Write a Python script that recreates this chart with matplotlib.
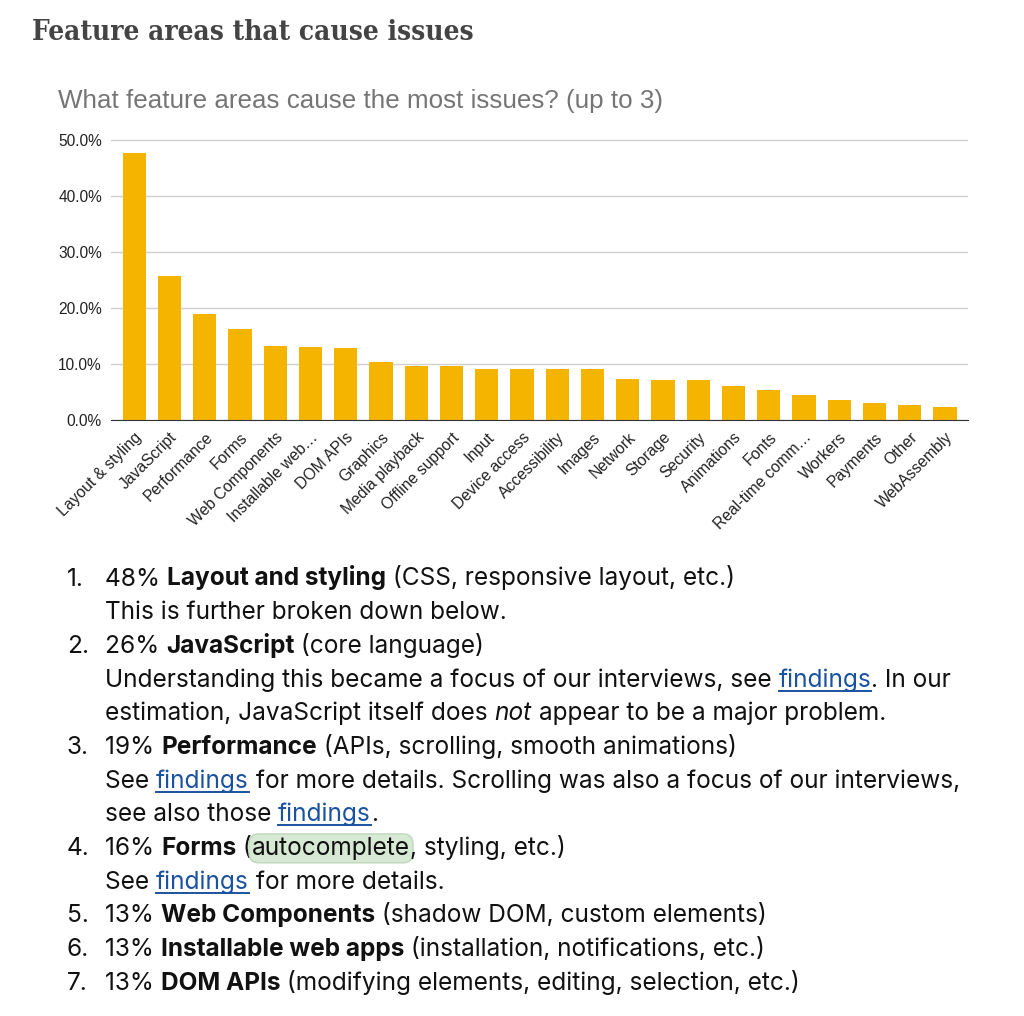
import matplotlib
matplotlib.use("Agg")
import matplotlib.pyplot as plt
import numpy as np
from matplotlib.transforms import IdentityTransform
from matplotlib.lines import Line2D

# chart data
categories = ["Layout & styling", "JavaScript", "Performance", "Forms", "Web Components",
              "Installable web…", "DOM APIs", "Graphics", "Media playback", "Offline support",
              "Input", "Device access", "Accessibility", "Images", "Network", "Storage",
              "Security", "Animations", "Fonts", "Real-time comm…", "Workers", "Payments",
              "Other", "WebAssembly"]
shares = [47.7, 25.8, 19.0, 16.3, 13.3, 13.0, 12.8, 10.3, 9.6, 9.6, 9.1, 9.1, 9.1, 9.1,
          7.4, 7.2, 7.2, 6.1, 5.4, 4.4, 3.5, 3.1, 2.6, 2.4]
yticks = [0, 10, 20, 30, 40, 50]

# text under the chart: (number, [(text, style), ...])
list_lines = [
    ("1.", [("48% ", "n"), ("Layout and styling", "b"), (" (CSS, responsive layout, etc.)", "n")]),
    ("", [("This is further broken down below.", "n")]),
    ("2.", [("26% ", "n"), ("JavaScript", "b"), (" (core language)", "n")]),
    ("", [("Understanding this became a focus of our interviews, see ", "n"), ("findings", "l"), (". In our", "n")]),
    ("", [("estimation, JavaScript itself does ", "n"), ("not", "i"), (" appear to be a major problem.", "n")]),
    ("3.", [("19% ", "n"), ("Performance", "b"), (" (APIs, scrolling, smooth animations)", "n")]),
    ("", [("See ", "n"), ("findings", "l"), (" for more details. Scrolling was also a focus of our interviews,", "n")]),
    ("", [("see also those ", "n"), ("findings", "l"), (".", "n")]),
    ("4.", [("16% ", "n"), ("Forms", "b"), (" (", "n"), ("autocomplete", "h"), (", styling, etc.)", "n")]),
    ("", [("See ", "n"), ("findings", "l"), (" for more details.", "n")]),
    ("5.", [("13% ", "n"), ("Web Components", "b"), (" (shadow DOM, custom elements)", "n")]),
    ("6.", [("13% ", "n"), ("Installable web apps", "b"), (" (installation, notifications, etc.)", "n")]),
    ("7.", [("13% ", "n"), ("DOM APIs", "b"), (" (modifying elements, editing, selection, etc.)", "n")]),
]

W, H = 1024, 1016
fig = plt.figure(figsize=(W / 100, H / 100), dpi=100)
fig.patch.set_facecolor("white")

# bar chart, placed in pixel terms
ymax = 50.3
ax = fig.add_axes([111 / W, 1 - 420 / H, (968 - 111) / W, ymax * 5.6 / H])
x = np.arange(len(categories))
ax.bar(x, shares, width=0.66, color="#f4b400", zorder=3)
ax.set_xlim(-0.66, len(categories) - 0.35)
ax.set_ylim(0, ymax)
ax.set_yticks(yticks)
ax.set_yticklabels([f"{v:.1f}%" for v in yticks], fontfamily="Liberation Sans")
ax.grid(axis="y", color="#d0d0d0", lw=1, zorder=0)
for s in ["top", "right", "left"]:
    ax.spines[s].set_visible(False)
ax.spines["bottom"].set_color("#333333")
ax.spines["bottom"].set_zorder(4)
ax.tick_params(axis="y", length=0, labelsize=11.2, colors="#222222", pad=6.5)
ax.set_xticks(x)
ax.set_xticklabels(categories, rotation=45, ha="right", va="top", rotation_mode="anchor",
                   fontfamily="Liberation Sans")
ax.tick_params(axis="x", length=0, labelsize=11.3, colors="#222222", pad=7)

px = IdentityTransform()

fig.text(32, H - 39.5, "Feature areas that cause issues", transform=px, fontfamily="DejaVu Serif",
         fontweight="bold", fontstretch="condensed", fontsize=20.1, color="#444444",
         va="baseline", ha="left")
fig.text(58, H - 101, "What feature areas cause the most issues? (up to 3)", transform=px,
         fontfamily="Liberation Sans", fontsize=18.7, color="#757575", va="center", ha="left")

# list text
fs = 17.6
renderer = fig.canvas.get_renderer()
props = {
    "n": dict(fontweight="normal", fontstyle="normal", color="#111111"),
    "b": dict(fontweight="bold", fontstyle="normal", color="#111111"),
    "i": dict(fontweight="normal", fontstyle="italic", color="#111111"),
    "l": dict(fontweight="normal", fontstyle="normal", color="#1a52a0"),
    "h": dict(fontweight="normal", fontstyle="normal", color="#111111"),
}


def width_of(s, st):
    t1 = fig.text(0, 0, "x" + s + "x", transform=px, fontfamily="Inter", fontsize=fs, **props[st])
    t2 = fig.text(0, 0, "xx", transform=px, fontfamily="Inter", fontsize=fs, **props[st])
    w = t1.get_window_extent(renderer).width - t2.get_window_extent(renderer).width
    t1.remove()
    t2.remove()
    return w


y0, step = 577, 33.67
for i, (num, runs) in enumerate(list_lines):
    yc = H - (y0 + i * step)
    base = yc - 8.5
    if num:
        fig.text(67, base, num, transform=px, fontfamily="Inter", fontsize=fs, color="#111111",
                 va="baseline", ha="left")
    cx = 105
    for s, st in runs:
        kw = dict(props[st])
        if st == "h":
            kw["bbox"] = dict(boxstyle="round,pad=0.12,rounding_size=0.4", fc="#d7e9d4", ec="#bcd8b8", lw=1)
        fig.text(cx, base, s, transform=px, fontfamily="Inter", fontsize=fs, va="baseline",
                 ha="left", **kw)
        w = width_of(s, st)
        if st == "l":
            fig.add_artist(Line2D([cx, cx + w], [base - 4, base - 4], transform=px,
                                  color="#1a52a0", lw=1.4))
        cx += w

fig.savefig("out.png", dpi=100, facecolor="white")
